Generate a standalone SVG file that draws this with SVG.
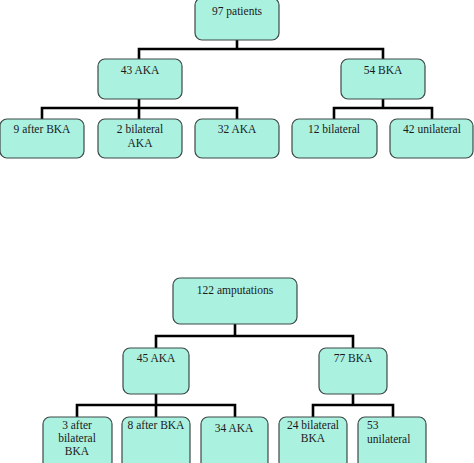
<svg xmlns="http://www.w3.org/2000/svg" width="474" height="463" viewBox="0 0 474 463">
<style>
.box{fill:#aaf1e0;stroke:#3c4846;stroke-width:1.2}
.t{font-family:"Liberation Serif","Times New Roman",serif;font-size:11.5px;fill:#1a1a1a;text-anchor:middle}
.l{text-anchor:start}
.c{fill:none;stroke:#000;stroke-width:2.6;stroke-linejoin:miter;stroke-linecap:butt}
</style>
<rect width="474" height="463" fill="#fff"/>
<g id="connectors">
<path class="c" d="M237,40V49 M139,59V49H383V59"/>
<path class="c" d="M139,99V108 M42,119V108H237V119 M139,108V119"/>
<path class="c" d="M383,99V108 M334,119V108H432V119"/>
<path class="c" d="M235,324V336 M156,348V336H353V348"/>
<path class="c" d="M156,394V405 M77,417V405H235V417 M156,405V417"/>
<path class="c" d="M353,394V405 M313,417V405H393V417"/>
</g>
<g id="n97"><rect class="box" x="195" y="-2" width="84" height="42" rx="7"/><text class="t" x="237" y="15">97 patients</text></g>
<g id="n43aka"><rect class="box" x="98" y="59" width="84" height="40" rx="7"/><text class="t" x="140" y="74">43 AKA</text></g>
<g id="n54bka"><rect class="box" x="341" y="59" width="84" height="40" rx="7"/><text class="t" x="383" y="74">54 BKA</text></g>
<g id="n9"><rect class="box" x="0" y="119" width="84" height="39" rx="7"/><text class="t" x="42" y="133">9 after BKA</text></g>
<g id="n2"><rect class="box" x="98" y="119" width="84" height="39" rx="7"/><text class="t" x="140" y="133">2 bilateral</text><text class="t" x="140" y="147">AKA</text></g>
<g id="n32"><rect class="box" x="195" y="119" width="84" height="39" rx="7"/><text class="t" x="237" y="133">32 AKA</text></g>
<g id="n12"><rect class="box" x="292" y="119" width="85" height="39" rx="7"/><text class="t" x="334" y="133">12 bilateral</text></g>
<g id="n42"><rect class="box" x="390" y="119" width="83" height="39" rx="7"/><text class="t" x="432" y="133">42 unilateral</text></g>
<g id="n122"><rect class="box" x="173" y="278" width="124" height="46" rx="7"/><text class="t" x="235" y="294">122 amputations</text></g>
<g id="n45aka"><rect class="box" x="123" y="348" width="66" height="46" rx="7"/><text class="t" x="156" y="362">45 AKA</text></g>
<g id="n77bka"><rect class="box" x="319" y="348" width="68" height="46" rx="7"/><text class="t" x="353" y="362">77 BKA</text></g>
<g id="n3"><rect class="box" x="43" y="417" width="69" height="52" rx="7"/><text class="t" x="77" y="429">3 after</text><text class="t" x="77" y="442">bilateral</text><text class="t" x="77" y="455">BKA</text></g>
<g id="n8"><rect class="box" x="122" y="417" width="68" height="52" rx="7"/><text class="t" x="156" y="429">8 after BKA</text></g>
<g id="n34"><rect class="box" x="201" y="417" width="67" height="52" rx="7"/><text class="t" x="234" y="432">34 AKA</text></g>
<g id="n24"><rect class="box" x="279" y="417" width="68" height="52" rx="7"/><text class="t" x="313" y="429">24 bilateral</text><text class="t" x="313" y="442">BKA</text></g>
<g id="n53"><rect class="box" x="358" y="417" width="68" height="52" rx="7"/><text class="t l" x="367" y="429">53</text><text class="t l" x="367" y="443">unilateral</text></g>
</svg>
